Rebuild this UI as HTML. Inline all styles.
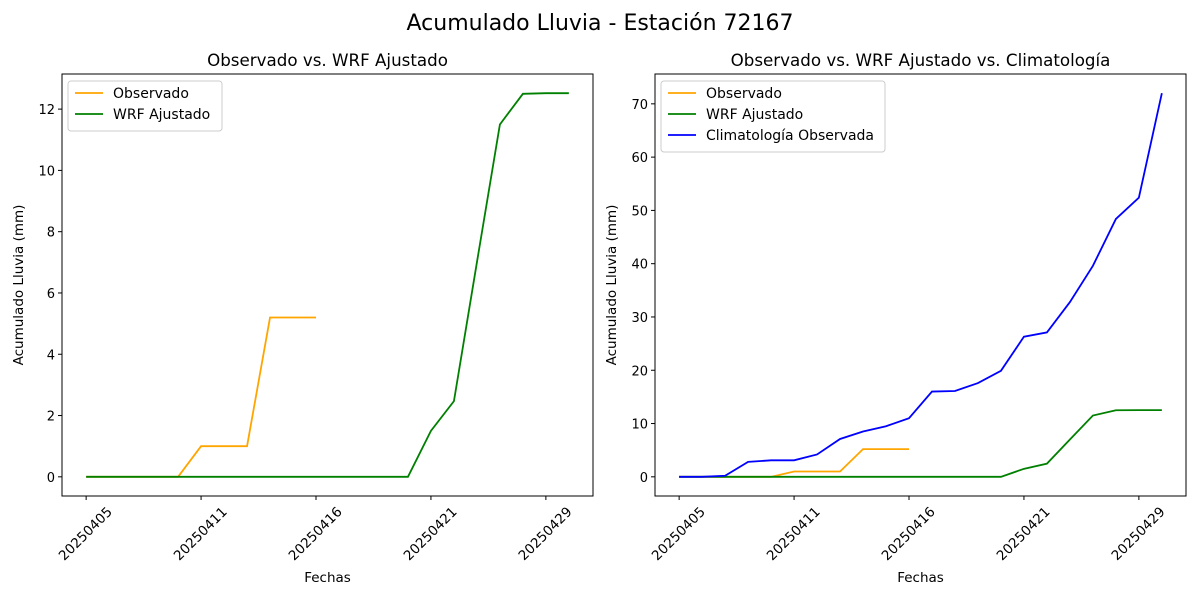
<!DOCTYPE html>
<html><head><meta charset="utf-8"><style>
body{margin:0;background:#fff;font-family:"Liberation Sans","DejaVu Sans",sans-serif}
svg text{font-family:"DejaVu Sans","Liberation Sans",sans-serif;fill:#000}
</style></head><body>
<svg id="fig" width="1200" height="600" viewBox="0 0 1200 600">
<text x="600" y="30" font-size="22" text-anchor="middle">Acumulado Lluvia - Estación 72167</text>
</svg>
<script>
const dates=["20250405","20250406","20250407","20250408","20250409","20250411","20250412","20250413","20250414","20250415","20250416","20250417","20250418","20250419","20250420","20250421","20250422","20250423","20250424","20250425","20250429","20250430"];
const tickIdx=[0,5,10,15,20];
const observado=[0,0,0,0,0,1,1,1,5.2,5.2,5.2];
const wrf=[0,0,0,0,0,0,0,0,0,0,0,0,0,0,0,1.5,2.47,7,11.5,12.5,12.52,12.52];
const clima=[0,0,0.2,2.8,3.1,3.1,4.2,7.1,8.5,9.5,11,16,16.1,17.6,19.9,26.3,27.1,32.8,39.6,48.4,52.4,72];
const leftYTicks=[0,2,4,6,8,10,12];
const rightYTicks=[0,10,20,30,40,50,60,70];
const NS="http://www.w3.org/2000/svg";
const svg=document.getElementById('fig');
function mk(tag,attrs,parent){const e=document.createElementNS(NS,tag);for(const k in attrs)e.setAttribute(k,attrs[k]);(parent||svg).appendChild(e);return e;}
function panel(name,L,R,T,B,title,series,yTicks,legendW){
  const g=mk('g',{});
  
  
  let ymax=0;series.forEach(s=>s.v.forEach(v=>ymax=Math.max(ymax,v)));
  const n=dates.length-1, xm=n*0.05, ym=ymax*0.05;
  const x=i=>L+(i+xm)/(n+2*xm)*(R-L);
  const y=v=>B-(v+ym)/(ymax+2*ym)*(B-T);
  series.forEach(s=>{
    const p=mk('polyline',{points:s.v.map((v,i)=>x(i)+','+y(v)).join(' '),fill:'none',stroke:s.c,'stroke-width':1.8},g);
    
    
  });
  const f=mk('rect',{x:L,y:T,width:R-L,height:B-T,fill:'none',stroke:'#000','stroke-width':1},g);
  
  
  yTicks.forEach(t=>{
    mk('line',{x1:L-4,x2:L,y1:y(t),y2:y(t),stroke:'#000'},g);
    const tx=mk('text',{x:L-7,y:y(t)+5,'font-size':13,'text-anchor':'end'},g);tx.textContent=t;
    
    
  });
  tickIdx.forEach(i=>{
    const xx=x(i), cy=B+37;
    mk('line',{x1:xx,x2:xx,y1:B,y2:B+4,stroke:'#000'},g);
    const tx=mk('text',{x:xx-1,y:cy+4.5,'font-size':13.5,'text-anchor':'middle',transform:`rotate(-45 ${xx} ${cy})`},g);tx.textContent=dates[i];
    
    
  });
  const tt=mk('text',{x:(L+R)/2,y:T-8,'font-size':16.7,'text-anchor':'middle'},g);tt.textContent=title;
  
  
  const xl=mk('text',{x:(L+R)/2,y:582,'font-size':13.5,'text-anchor':'middle'},g);xl.textContent='Fechas';
  
  
  const yl=mk('text',{x:0,y:0,'font-size':13.5,'text-anchor':'middle',transform:`translate(${L-39} ${(T+B)/2}) rotate(-90)`},g);yl.textContent='Acumulado Lluvia (mm)';
  
  
  const lg=mk('g',{},g);
  
  
  mk('rect',{x:L+6,y:T+7,width:legendW,height:series.length*21+8,rx:3,fill:'#fff',stroke:'#ccc'},lg);
  series.forEach((s,k)=>{
    const yy=T+19+k*21;
    mk('line',{x1:L+13,x2:L+41,y1:yy,y2:yy,stroke:s.c,'stroke-width':1.8},lg);
    const t=mk('text',{x:L+51,y:yy+5,'font-size':14},lg);t.textContent=s.label;
    
    
  });
}
panel('left-chart',62,593,74,496,'Observado vs. WRF Ajustado',
  [{id:'observado',v:observado,c:'orange',label:'Observado'},{id:'wrf',v:wrf,c:'green',label:'WRF Ajustado'}],leftYTicks,154);
panel('right-chart',655,1186,74,496,'Observado vs. WRF Ajustado vs. Climatología',
  [{id:'observado',v:observado,c:'orange',label:'Observado'},{id:'wrf',v:wrf,c:'green',label:'WRF Ajustado'},{id:'climatologia',v:clima,c:'blue',label:'Climatología Observada'}],rightYTicks,224);
</script>
</body></html>
